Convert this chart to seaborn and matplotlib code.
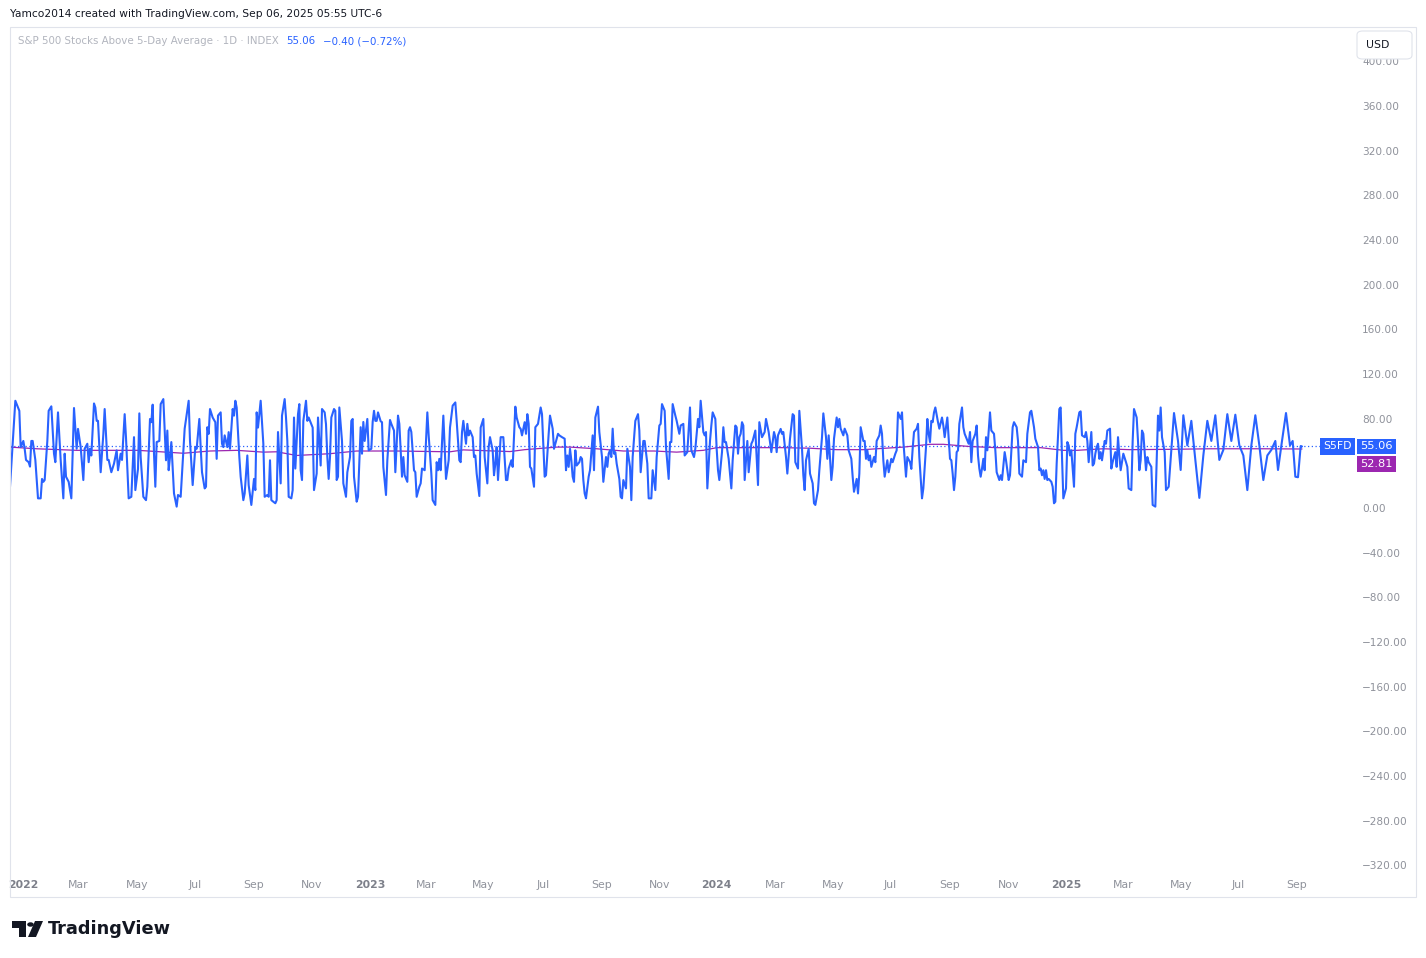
import pandas as pd
import seaborn as sns
import matplotlib.pyplot as plt
from matplotlib.patches import Rectangle, FancyBboxPatch, Polygon, Circle

# session number (trading day counted from 2021-12-20) and % of S&P 500 stocks above 5-day average
bar_idx = [
    0, 4, 7, 8, 10, 11, 12, 14, 15, 16, 17, 19, 21, 23, 24, 25, 26, 28, 29, 31, 33, 34, 36, 38, 40, 41, 42, 44, 46, 48,
    50, 51, 53, 55, 56, 58, 59, 60, 61, 63, 64, 65, 66, 68, 70, 71, 73, 74, 76, 78, 80, 81, 83, 84, 86, 87, 89, 91, 93, 94,
    96, 97, 98, 100, 102, 103, 105, 106, 107, 108, 109, 110, 112, 113, 115, 117, 118, 119, 120, 121, 123, 125, 126, 128, 130,
    131, 134, 135, 137, 139, 140, 142, 143, 144, 146, 147, 148, 149, 150, 152, 154, 155, 156, 158, 159, 160, 161, 163, 164,
    165, 167, 168, 169, 170, 172, 173, 175, 176, 178, 179, 181, 183, 184, 185, 186, 188, 190, 191, 193, 194, 195, 196, 199,
    200, 201, 203, 204, 206, 207, 208, 209, 211, 212, 213, 214, 216, 217, 218, 219, 220, 222, 223, 224, 226, 227, 228, 230,
    231, 233, 234, 236, 237, 238, 239, 240, 241, 243, 244, 245, 246, 247, 249, 250, 252, 253, 255, 256, 257, 258, 260, 261,
    263, 264, 265, 266, 268, 269, 271, 272, 273, 274, 275, 276, 278, 279, 280, 282, 283, 285, 286, 288, 289, 291, 292, 294,
    295, 296, 298, 299, 300, 301, 303, 304, 305, 307, 308, 309, 311, 313, 314, 316, 317, 319, 320, 321, 322, 323, 325, 327,
    329, 330, 332, 334, 335, 337, 338, 339, 340, 342, 343, 344, 345, 347, 348, 349, 350, 352, 353, 355, 356, 358, 359, 360,
    362, 363, 364, 365, 366, 368, 370, 372, 373, 374, 376, 377, 379, 380, 382, 383, 384, 386, 387, 388, 389, 390, 391, 393,
    394, 396, 398, 399, 401, 402, 404, 405, 407, 408, 409, 411, 412, 414, 416, 417, 418, 419, 420, 421, 422, 423, 424, 425,
    427, 428, 429, 430, 431, 432, 434, 435, 437, 438, 439, 441, 442, 444, 445, 447, 448, 449, 450, 451, 452, 453, 454, 455,
    457, 458, 459, 460, 462, 463, 465, 466, 467, 469, 471, 472, 473, 475, 476, 478, 479, 481, 482, 484, 485, 487, 488, 489,
    491, 492, 494, 495, 496, 497, 499, 500, 502, 503, 505, 506, 508, 510, 511, 513, 514, 516, 517, 518, 520, 521, 522, 523,
    525, 526, 527, 529, 530, 531, 532, 534, 535, 536, 537, 539, 541, 542, 544, 545, 546, 547, 548, 549, 550, 551, 553, 554,
    556, 557, 559, 561, 562, 564, 566, 567, 569, 570, 571, 573, 574, 575, 576, 578, 579, 580, 582, 583, 585, 587, 588, 589,
    591, 592, 594, 595, 596, 597, 599, 600, 602, 603, 604, 606, 607, 609, 610, 612, 613, 614, 616, 617, 618, 620, 621, 622,
    623, 625, 626, 628, 629, 631, 632, 633, 635, 636, 637, 638, 640, 641, 642, 643, 644, 645, 646, 648, 649, 650, 652, 653,
    654, 655, 656, 658, 659, 661, 662, 664, 665, 666, 668, 669, 670, 672, 673, 675, 676, 677, 678, 680, 681, 682, 684, 685,
    687, 688, 689, 690, 691, 692, 693, 694, 696, 697, 699, 700, 701, 702, 703, 705, 706, 707, 708, 709, 710, 711, 712, 714,
    715, 716, 717, 719, 720, 721, 722, 724, 725, 726, 727, 728, 729, 730, 731, 732, 733, 735, 736, 738, 739, 740, 742, 743,
    744, 746, 747, 749, 750, 752, 753, 755, 756, 757, 759, 760, 762, 763, 765, 766, 768, 769, 771, 772, 773, 774, 775, 776,
    777, 778, 779, 781, 782, 783, 784, 785, 787, 788, 789, 790, 792, 793, 794, 795, 796, 798, 799, 800, 802, 803, 804, 806,
    807, 808, 809, 811, 812, 813, 814, 815, 816, 817, 818, 819, 820, 821, 822, 823, 825, 826, 827, 829, 830, 831, 832, 833,
    834, 835, 837, 838, 839, 841, 842, 843, 845, 846, 847, 848, 849, 850, 852, 853, 854, 856, 857, 859, 861, 862, 863, 864,
    866, 867, 869, 873, 876, 878, 880, 883, 886, 889, 892, 895, 898, 901, 904, 907, 910, 913, 916, 919, 922, 925, 928, 931,
    934, 937, 940, 943, 946, 949, 951, 954, 957, 960, 962, 964, 966, 968, 969,
]
above_pct = [
    19, 96, 87, 54.5, 60, 53, 43, 41, 37, 60, 60, 43, 8.6, 8.6, 26, 23.4, 25, 60, 87, 91, 48.6, 41, 85.6, 43, 8.6, 48.6, 28, 23.4, 8.6, 89.5,
    53, 70.8, 54.5, 25, 53, 57.5, 41, 53, 47, 93.6, 90, 78, 78, 32, 66, 88.6, 43, 43, 32, 39.7, 51.6, 33.8, 48.6, 43, 84, 63, 8.6, 10, 63.4, 16,
    35, 84.7, 45.6, 10, 7, 19, 79.7, 76.8, 92.5, 48.6, 19, 59, 60, 93, 97.5, 42.7, 69.3, 33.8, 45.6, 59, 13, 1.2, 11.6, 10, 51.6,
    71, 96, 60, 20.5, 54.5, 53, 79.7, 54.5, 32, 17.5, 19, 72.3, 66.4, 88.6, 81, 76.8, 44, 82.7, 85.6, 57.5, 54.5, 65, 54.5, 67.9,
    53, 88.6, 82.7, 96, 90, 45.6, 28, 7, 13, 47, 20.5, 2.7, 26, 16, 85.6, 72, 96, 57.5, 10, 11.6, 10, 42.7, 7, 4.2,
    7, 68, 22, 82.7, 97.5, 81, 60, 10, 8.6, 16, 81, 35.3, 84, 93, 33.8, 25, 78, 96, 78, 81, 75, 72, 16, 30.8,
    81, 38, 88.6, 85.6, 75, 45.6, 26, 45.6, 81, 88.6, 87, 25, 28, 90, 60, 22, 10, 32, 45.6, 78, 79.7, 28, 5.6, 10,
    72.3, 48.6, 77, 60, 79.7, 51.6, 53, 77, 87, 78, 78, 85.6, 77.6, 76.8, 36.8, 11.6, 42.7, 78.8, 75.3, 69.3, 32, 82.7, 75.3, 28,
    45.6, 29.3, 23.4, 69.3, 72.3, 68, 33.8, 32, 10, 19, 22, 35.3, 33.8, 85.6, 65, 30.8, 7, 2.7, 41, 33.8, 44, 33.8, 82.7, 26,
    42.7, 72, 91.6, 94.5, 78, 42.7, 41, 68, 78, 57.5, 75.3, 65, 69.3, 63.4, 45.6, 47, 30.8, 10.7, 72, 79.7, 45.6, 22, 54.5, 63.4,
    51.6, 29.3, 39.7, 54.5, 25, 63.4, 63.4, 25, 25, 35.3, 42.7, 36.8, 90.7, 81, 72.3, 70.8, 65, 76.8, 66.4, 84, 75.3, 36.8, 35.3, 19,
    72.3, 75.3, 90, 84, 28, 29.3, 66.4, 82.7, 71, 53, 57.5, 66.4, 65, 63.4, 62, 33.8, 47, 36.8, 53, 42.7, 28, 23.4, 51.6, 38,
    41, 45.6, 44, 25, 13, 8.6, 28, 33.8, 65, 33.8, 81, 90.7, 68, 45.6, 23.4, 45.6, 36.8, 48.6, 51.6, 45.6, 71, 48.6, 50, 39.7,
    26, 10, 8.6, 25, 17.5, 53, 36.8, 7, 45.6, 78, 84, 69.3, 32, 60, 60, 39.7, 8.6, 8.6, 33.8, 16, 45.6, 73.8, 75.3, 93,
    87, 54.5, 26, 59, 59, 93, 82.7, 78, 66.4, 73.8, 75.3, 47, 50, 90, 51.6, 45.6, 53, 79.7, 72.3, 96, 68, 65, 68, 17.5,
    60, 73.8, 85.6, 79.7, 53, 33.8, 25, 50, 72.3, 59, 59, 44, 17.5, 42.7, 73.8, 72.3, 48.6, 63.4, 66.4, 76.8, 73.8, 25, 60, 32,
    57.5, 60, 69.3, 20.5, 76.8, 63.4, 68, 79.7, 68, 59, 50, 68, 63.4, 50, 65, 70.8, 66.4, 68, 45.6, 30.8, 62, 84, 82.7, 41,
    35.3, 87, 53, 29.3, 16, 42.7, 53, 30.8, 22, 4.2, 2.7, 16, 33.8, 63.4, 84.7, 63.4, 44, 65, 25, 36.8, 62, 81, 72.3, 79.7,
    71, 65, 71, 65, 51.6, 44, 28, 14.5, 26, 13, 30.8, 72.3, 60, 60, 44, 51.6, 42.7, 47, 36.8, 45.6, 41, 60, 65, 73.8,
    66.4, 42.7, 28, 42.7, 32, 44, 41, 48.6, 51.6, 85.6, 79.7, 85.6, 60, 28, 45.6, 41, 35, 53, 68, 71, 75.3, 45.6, 8.6, 17.5,
    54.5, 79.7, 66.4, 59, 78, 76.8, 85.6, 90, 76.8, 71, 81, 73.8, 63.4, 72.3, 81, 44, 42.7, 30.8, 16, 28, 50, 51.6, 75.3, 90,
    72.3, 66.4, 63.4, 57.5, 68, 41, 60, 66.4, 73.8, 47, 35.3, 28, 35.3, 44, 33.8, 63.4, 51.6, 85.6, 69.3, 66.4, 51.6, 32, 25, 29.3,
    25, 50, 42.7, 25, 29.3, 72.3, 76.8, 72.3, 60, 30.8, 28, 42.7, 41, 66.4, 85.6, 87, 72.3, 62, 54.5, 33.8, 35.3, 29.3, 33.8, 26,
    33.8, 25, 26, 23.4, 19, 4.2, 5.6, 39.7, 88.6, 90, 45.6, 8.6, 17.5, 59, 56, 47, 51.6, 19, 66.4, 72.3, 85.6, 86.5, 65, 63.4,
    68, 60, 41, 68, 38, 39.7, 48.6, 54.5, 57.5, 44, 50, 42.7, 51.6, 60, 57.5, 69.3, 71, 35.3, 41, 50, 36.8, 63.4, 47, 33.8,
    41, 48.6, 41, 36.8, 17.5, 16, 60, 88.6, 81, 60, 33.8, 42.7, 69.3, 66.4, 33.8, 45.6, 41, 36.8, 2.7, 1.2, 82.7, 69.3, 90, 63.4,
    50, 16, 19, 85, 60, 34, 83, 56, 78, 43, 9, 47, 78, 60, 83, 43, 52, 84, 60, 83.5, 56, 47, 16, 56,
    83, 56, 25, 47, 52, 60, 34, 60, 85, 56, 60, 28, 27.5, 55.46, 55.06,
]

# moving average overlay (purple), read at a few sessions
ma_idx = [0, 20, 50, 96, 130, 150, 170, 190, 200, 215, 240, 260, 290, 330, 340, 375, 386, 410, 420, 440, 460, 483,
          500, 520, 530, 580, 600, 620, 640, 650, 670, 690, 700, 720, 740, 773, 790, 800, 820, 840, 870, 900, 940, 969]
ma_val = [54.5, 53, 51.6, 51.6, 49, 51, 51.6, 50, 50.3, 47, 48.6, 51, 51, 50.3, 52, 50.5, 52.2, 54.5, 54.5, 53, 51, 51,
          50, 51.6, 54, 54, 53.5, 52.2, 52.2, 53, 54.5, 57, 57, 55, 54, 54, 51.6, 51.6, 53, 52.2, 52.5, 53, 53, 52.81]

last_val = 55.06
change = "\u22120.40 (\u22120.72%)"
ma_last = 52.81
y_ticks = list(range(-320, 401, 40))

BLUE = "#2962ff"
PURPLE = "#9c27b0"
GREY = "#8f929b"

sessions = pd.bdate_range("2021-12-20", periods=1010)

sns.set_style("white")
plt.rcParams["font.family"] = ["DejaVu Sans"]

W, H = 1426, 958
fig = plt.figure(figsize=(W / 100, H / 100), dpi=100)
ax = fig.add_axes([10 / W, 1 - 872 / H, 1346 / W, 845 / H])

main = pd.DataFrame({"bar": bar_idx, "pct": above_pct})
ma = pd.DataFrame({"bar": ma_idx, "pct": ma_val})
sns.lineplot(data=ma, x="bar", y="pct", ax=ax, color=PURPLE, lw=0.9, zorder=2)
sns.lineplot(data=main, x="bar", y="pct", ax=ax, color=BLUE, lw=1.5, zorder=3)
ax.axhline(last_val, color=BLUE, lw=0.9, ls=(0, (1, 2)), zorder=1)

ax.set_xlim(0, 1009.5)
ax.set_ylim(-326, 430.7)
ax.set_xlabel("")
ax.set_ylabel("")
for s in ax.spines.values():
    s.set_visible(False)

# price scale on the right
ax.yaxis.tick_right()
ax.set_yticks(y_ticks)
ax.set_yticklabels([f"{v:.2f}".replace("-", "\u2212") for v in y_ticks])
ax.tick_params(axis="y", length=0, pad=4.5, labelsize=7.6, labelcolor=GREY)

# month ticks on first session of each month, every second month
month_start = pd.Series(range(len(sessions)), index=sessions)
month_start = month_start.groupby([sessions.year, sessions.month]).first()
xt, xl = [], []
for (yr, mo), pos in month_start.items():
    if mo % 2 == 1 and pos > 0 and pos < 1000:
        xt.append(pos)
        xl.append(str(yr) if mo == 1 else pd.Timestamp(yr, mo, 1).strftime("%b"))
ax.set_xticks(xt)
ax.set_xticklabels(xl)
ax.tick_params(axis="x", length=0, pad=5.5, labelsize=7.8, labelcolor=GREY)
for lab in ax.get_xticklabels():
    if lab.get_text().isdigit():
        lab.set_fontweight("bold")
        lab.set_color("#7d808a")

# last value labels
ax.annotate("S5FD", xy=(1.0, last_val), xycoords=("axes fraction", "data"), xytext=(-3, 0),
            textcoords="offset points", ha="right", va="center", fontsize=7.8, color="white",
            bbox=dict(boxstyle="square,pad=0.28", fc=BLUE, ec="none"))
ax.annotate(f"{last_val:.2f}", xy=(1.0, last_val), xycoords=("axes fraction", "data"), xytext=(3, 0),
            textcoords="offset points", ha="left", va="center", fontsize=8.2, color="white",
            bbox=dict(boxstyle="square,pad=0.25", fc=BLUE, ec="none"), annotation_clip=False)
ax.annotate(f"{ma_last:.2f}", xy=(1.0, last_val), xycoords=("axes fraction", "data"), xytext=(3, -12.5),
            textcoords="offset points", ha="left", va="center", fontsize=8.2, color="white",
            bbox=dict(boxstyle="square,pad=0.25", fc=PURPLE, ec="none"), annotation_clip=False)


def px(x, y):
    return (x / W, 1 - y / H)


# frame, USD button (it hides the top of the 400.00 label), header texts
fig.patches.append(Rectangle(px(10, 897), 1406 / W, 870 / H, transform=fig.transFigure,
                             fill=False, ec="#e0e3eb", lw=0.8))
fig.patches.append(FancyBboxPatch(px(1357, 59), 55 / W, 28 / H, boxstyle="round,pad=0,rounding_size=0.004",
                                  transform=fig.transFigure, fc="white", ec="#e0e3eb", lw=0.8, zorder=5))
fig.text(*px(1378, 45), "USD", fontsize=7.8, color="#131722", ha="center", va="center", zorder=6)

fig.text(*px(10, 14), "Yamco2014 created with TradingView.com, Sep 06, 2025 05:55 UTC-6",
         fontsize=7.7, color="#131722", va="center")

# legend row: each piece placed right after the previous one
renderer = fig.canvas.get_renderer()
x0 = 18
for txt, col, gap in [("S&P 500 Stocks Above 5-Day Average \u00b7 1D \u00b7 INDEX", "#b2b5be", 7),
                      (f"{last_val:.2f}", BLUE, 8), (change, BLUE, 0)]:
    t = fig.text(*px(x0, 41), txt, fontsize=7.4, color=col, va="center")
    x0 = t.get_window_extent(renderer).x1 + gap

# TradingView logo
fig.patches.append(Polygon([px(12, 921), px(26, 921), px(26, 937), px(19, 937), px(19, 928), px(12, 928)],
                           closed=True, transform=fig.transFigure, fc="#131722", ec="none"))
fig.patches.append(Circle(px(30.5, 924.5), 3.3 / W, transform=fig.transFigure, fc="#131722", ec="none"))
fig.patches.append(Polygon([px(35, 921), px(43, 921), px(36, 937), px(28, 937)],
                           closed=True, transform=fig.transFigure, fc="#131722", ec="none"))
fig.text(*px(48, 929), "TradingView", fontsize=12.8, fontweight="bold", color="#131722", va="center")

fig.savefig("out.png", dpi=100)
